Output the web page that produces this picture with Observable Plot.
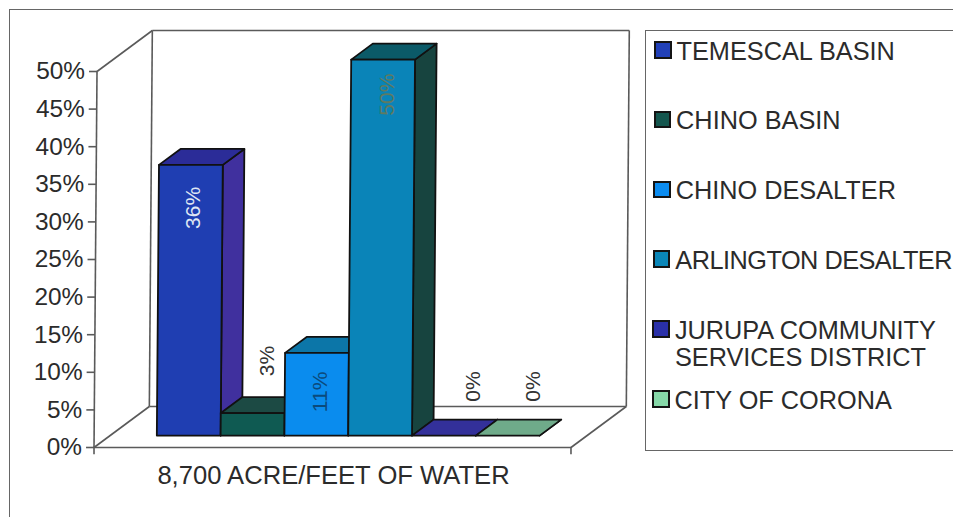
<!DOCTYPE html>
<html>
<head>
<meta charset="utf-8">
<script src="https://cdn.jsdelivr.net/npm/d3@7"></script>
<script src="https://cdn.jsdelivr.net/npm/@observablehq/plot@0.6"></script>
<style>
  html, body { margin: 0; padding: 0; background: #fff; overflow: hidden; width: 953px; height: 517px; }
  #page { position: relative; width: 953px; height: 517px; overflow: hidden; font-family: "Liberation Sans", Arial, sans-serif; }
  #page svg { position: absolute; left: 0; top: 0; }
  #outer { position: absolute; left: 9px; top: 9px; width: 1000px; height: 600px; border-left: 1.5px solid #666; border-top: 1.5px solid #666; }
  #legend { position: absolute; left: 645px; top: 30px; width: 400px; height: 419px; border: 1.5px solid #666; box-sizing: content-box; }
  .row { position: absolute; display: flex; align-items: flex-start; color: #2b2b2b; font-size: 25.3px; line-height: 27.5px; white-space: pre-line; }
  .swatch { width: 13.5px; height: 13.5px; border: 2px solid #141414; margin: 3.5px 5px 0 0; flex: none; }
</style>
</head>
<body>
<div id="page"></div>
<script>
// Share of 8,700 acre-feet of water by supply source
const sources = ["TEMESCAL BASIN", "CHINO BASIN", "CHINO DESALTER", "ARLINGTON DESALTER", "JURUPA COMMUNITY\nSERVICES DISTRICT", "CITY OF CORONA"];
const shares = [36, 3, 11, 50, 0, 0];
const percentTicks = [0, 5, 10, 15, 20, 25, 30, 35, 40, 45, 50];
const categoryLabel = "8,700 ACRE/FEET OF WATER";

// Face colours of each box
const frontColors = ["#1f3eb2", "#0f5a52", "#0a8cee", "#0a84b8", "#2f2f9c", "#6fb08e"];
const sideColors = ["#40309e", "#123f3a", "#0a70a0", "#17443f", "#2f2f9c", "#6fb08e"];
const topColors = ["#2b2c98", "#1c4a44", "#0c76a8", "#0b5a68", "#33309a", "#6fab8a"];
const swatchColors = ["#2140b8", "#14564e", "#0b8cf0", "#0a86b8", "#2a30a8", "#86d8a8"];

// Oblique projection of the 3-D box: t runs from the front floor edge (0) to the back wall (1).
// Units are category slots on x and percent on y.
const slotPx = 63.8, percentPx = 7.52, originX = 139, originY = 447;
const depthX = 0.862, depthY = 5.45, lean = 0.00094;
const barFront = 0.29, barBack = 0.68, barShift = 0.02;
const slotMin = -0.713, slotMax = 6.763, axisTop = 50;
const project = (slot, t, value) => {
  const y = value + t * depthY;
  return {x: slot + t * depthX + lean * y, y};
};
const poly = (fill, pts, stroke = "#111", strokeWidth = 1.8) =>
  Plot.line(pts.map(([s, t, v]) => project(s + barShift, t, v)), {x: "x", y: "y", fill, stroke, strokeWidth, curve: "linear-closed", strokeLinejoin: "round"});
const edge = (a, b) => {
  const p = project(...a), q = project(...b);
  return Plot.link([0], {x1: () => p.x, y1: () => p.y, x2: () => q.x, y2: () => q.y, stroke: "#5a5a5a", strokeWidth: 1.6});
};

// Boxes are painted left to right so each one hides what lies behind it
const bars = shares.flatMap((v, i) => [
  poly(sideColors[i], [[i + 1, barFront, 0], [i + 1, barBack, 0], [i + 1, barBack, v], [i + 1, barFront, v]]),
  poly(topColors[i], [[i, barFront, v], [i + 1, barFront, v], [i + 1, barBack, v], [i, barBack, v]]),
  ...(v > 0 ? [poly(frontColors[i], [[i, barFront, 0], [i + 1, barFront, 0], [i + 1, barFront, v], [i, barFront, v]])] : [])
]);

// Rotated value labels: offsets from each box's front-top centre
const labelNudge = [[4, 43], [16, -52], [5, 39], [5, 35], [31, -49], [27, -49]];
const labelColors = ["#dfe6f4", "#333", "#0b4a7c", "#5f7a62", "#333", "#333"];
const valueLabels = shares.map((v, i) => {
  const p = project(i + 0.5, barFront, v);
  return Plot.text([`${v}%`], {
    x: () => p.x, y: () => p.y, text: d => d, rotate: -90,
    dx: labelNudge[i][0], dy: labelNudge[i][1],
    fontSize: 21, fill: labelColors[i], fontFamily: "Liberation Sans"
  });
});

const tickRows = percentTicks.map(v => ({label: `${v}%`, ...project(slotMin, 0, v)}));

const plot = Plot.plot({
  width: 953, height: 517, margin: 0,
  style: {background: "transparent", overflow: "visible"},
  x: {domain: [-originX / slotPx, (953 - originX) / slotPx], range: [0, 953], axis: null},
  y: {domain: [-(517 - originY) / percentPx, originY / percentPx], range: [517, 0], axis: null},
  marks: [
    // Side wall, back wall and floor outlines
    edge([slotMin, 0, 0], [slotMin, 0, axisTop]),
    edge([slotMin, 0, axisTop], [slotMin, 1, axisTop]),
    edge([slotMin, 1, axisTop], [slotMax, 1, axisTop]),
    edge([slotMin, 1, axisTop], [slotMin, 1, 0]),
    edge([slotMax, 1, axisTop], [slotMax, 1, 0]),
    edge([slotMin, 1, 0], [slotMax, 1, 0]),
    edge([slotMin, 0, 0], [slotMin, 1, 0]),
    edge([slotMin, 0, 0], [slotMax, 0, 0]),
    edge([slotMax, 0, 0], [slotMax, 1, 0]),
    // Tick marks on the value axis and at both ends of the category axis
    Plot.link(tickRows, {x1: d => d.x - 0.125, x2: "x", y1: "y", y2: "y", stroke: "#5a5a5a", strokeWidth: 1.6}),
    Plot.ruleX([slotMin, slotMax], {y1: 0, y2: -0.95, stroke: "#5a5a5a", strokeWidth: 1.6}),
    Plot.text(tickRows, {x: "x", y: "y", text: "label", textAnchor: "end", dx: -12, fontSize: 24.4, fill: "#2b2b2b", fontFamily: "Liberation Sans"}),
    ...bars,
    ...valueLabels,
    Plot.text([categoryLabel], {x: () => (333 - originX) / slotPx, y: () => -3.75, text: d => d, fontSize: 25.6, fill: "#2b2b2b", fontFamily: "Liberation Sans"})
  ]
});

const page = document.getElementById("page");
page.appendChild(plot);

const outer = document.createElement("div");
outer.id = "outer";
page.appendChild(outer);

const legend = document.createElement("div");
legend.id = "legend";
page.appendChild(legend);
sources.forEach((name, i) => {
  const row = document.createElement("div");
  row.className = "row";
  row.style.left = `${8 - i * 0.4}px`;
  row.style.top = `${6.5 + i * 69.8}px`;
  const sw = document.createElement("div");
  sw.className = "swatch";
  sw.style.background = swatchColors[i];
  const label = document.createElement("div");
  label.textContent = name;
  row.append(sw, label);
  legend.appendChild(row);
  // Tighten the letter spacing of any entry that would run past the right edge of the page
  const overflow = label.getBoundingClientRect().right - 952;
  if (overflow > 0) label.style.letterSpacing = `${-overflow / name.length}px`;
});
</script>
</body>
</html>
